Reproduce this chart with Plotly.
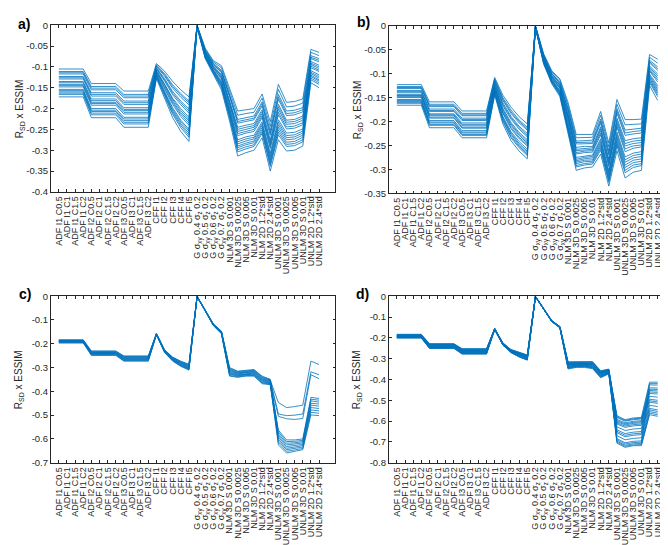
import plotly.graph_objects as go

categories = [
    "ADF I1 C0.5", "ADF I1 C1", "ADF I1 C1.5", "ADF I1 C2",
    "ADF I2 C0.5", "ADF I2 C1", "ADF I2 C1.5", "ADF I2 C2",
    "ADF I3 C0.5", "ADF I3 C1", "ADF I3 C1.5", "ADF I3 C2",
    "CFF I1", "CFF I2", "CFF I3", "CFF I4", "CFF I5",
    "G σ<sub>xy</sub> 0.4 σ<sub>z</sub> 0.2", "G σ<sub>xy</sub> 0.5 σ<sub>z</sub> 0.2",
    "G σ<sub>xy</sub> 0.6 σ<sub>z</sub> 0.2", "G σ<sub>xy</sub> 0.7 σ<sub>z</sub> 0.2",
    "NLM 3D S 0.001", "NLM 3D S 0.0025", "NLM 3D S 0.005", "NLM 3D S 0.01",
    "NLM 2D 1.2*std", "NLM 2D 2.4*std",
    "UNLM 3D S 0.001", "UNLM 3D S 0.0025", "UNLM 3D S 0.005", "UNLM 3D S 0.01",
    "UNLM 2D 1.2*std", "UNLM 2D 2.4*std",
]

a_series = [
    [-0.105,-0.105,-0.105,-0.105,-0.140,-0.140,-0.140,-0.140,-0.158,-0.158,-0.158,-0.158,-0.092,-0.110,-0.135,-0.155,-0.172,-0.001,-0.060,-0.091,-0.108,-0.165,-0.226,-0.222,-0.218,-0.184,-0.253,-0.166,-0.206,-0.204,-0.198,-0.073,-0.080],
    [-0.111,-0.111,-0.111,-0.111,-0.147,-0.147,-0.147,-0.147,-0.166,-0.166,-0.166,-0.166,-0.095,-0.116,-0.143,-0.164,-0.182,-0.000,-0.055,-0.085,-0.097,-0.150,-0.206,-0.203,-0.200,-0.165,-0.232,-0.142,-0.185,-0.183,-0.177,-0.058,-0.065],
    [-0.117,-0.117,-0.117,-0.117,-0.155,-0.155,-0.155,-0.155,-0.174,-0.174,-0.174,-0.174,-0.099,-0.122,-0.151,-0.173,-0.191,-0.001,-0.064,-0.097,-0.118,-0.179,-0.245,-0.240,-0.236,-0.203,-0.275,-0.190,-0.228,-0.226,-0.218,-0.087,-0.096],
    [-0.123,-0.123,-0.123,-0.123,-0.162,-0.162,-0.162,-0.162,-0.182,-0.182,-0.182,-0.182,-0.102,-0.128,-0.159,-0.182,-0.201,-0.000,-0.057,-0.088,-0.102,-0.157,-0.216,-0.212,-0.209,-0.175,-0.243,-0.154,-0.196,-0.194,-0.187,-0.065,-0.073],
    [-0.129,-0.129,-0.129,-0.129,-0.170,-0.170,-0.170,-0.170,-0.190,-0.190,-0.190,-0.190,-0.105,-0.134,-0.167,-0.191,-0.211,-0.002,-0.069,-0.103,-0.129,-0.194,-0.265,-0.259,-0.255,-0.222,-0.296,-0.215,-0.249,-0.247,-0.239,-0.102,-0.111],
    [-0.135,-0.135,-0.135,-0.135,-0.177,-0.177,-0.177,-0.177,-0.198,-0.198,-0.198,-0.198,-0.108,-0.140,-0.175,-0.200,-0.221,-0.001,-0.062,-0.094,-0.113,-0.172,-0.235,-0.231,-0.227,-0.194,-0.264,-0.178,-0.217,-0.215,-0.208,-0.080,-0.088],
    [-0.142,-0.142,-0.142,-0.142,-0.185,-0.185,-0.185,-0.185,-0.205,-0.205,-0.205,-0.205,-0.112,-0.145,-0.182,-0.210,-0.230,-0.003,-0.073,-0.109,-0.139,-0.208,-0.285,-0.278,-0.273,-0.241,-0.318,-0.239,-0.270,-0.268,-0.259,-0.116,-0.127],
    [-0.148,-0.148,-0.148,-0.148,-0.192,-0.192,-0.192,-0.192,-0.213,-0.213,-0.213,-0.213,-0.115,-0.151,-0.190,-0.219,-0.240,-0.002,-0.066,-0.100,-0.123,-0.186,-0.255,-0.250,-0.245,-0.213,-0.286,-0.202,-0.238,-0.236,-0.228,-0.094,-0.104],
    [-0.154,-0.154,-0.154,-0.154,-0.200,-0.200,-0.200,-0.200,-0.221,-0.221,-0.221,-0.221,-0.118,-0.157,-0.198,-0.228,-0.250,-0.004,-0.078,-0.115,-0.150,-0.223,-0.304,-0.297,-0.291,-0.260,-0.339,-0.263,-0.291,-0.289,-0.280,-0.131,-0.142],
    [-0.160,-0.160,-0.160,-0.160,-0.207,-0.207,-0.207,-0.207,-0.229,-0.229,-0.229,-0.229,-0.121,-0.163,-0.206,-0.237,-0.259,-0.002,-0.071,-0.106,-0.134,-0.201,-0.275,-0.268,-0.264,-0.232,-0.307,-0.227,-0.259,-0.257,-0.249,-0.109,-0.119],
    [-0.166,-0.166,-0.166,-0.166,-0.215,-0.215,-0.215,-0.215,-0.237,-0.237,-0.237,-0.237,-0.125,-0.169,-0.214,-0.246,-0.269,-0.004,-0.080,-0.118,-0.155,-0.230,-0.314,-0.306,-0.300,-0.270,-0.350,-0.275,-0.302,-0.300,-0.290,-0.138,-0.150],
    [-0.172,-0.172,-0.172,-0.172,-0.222,-0.222,-0.222,-0.222,-0.245,-0.245,-0.245,-0.245,-0.128,-0.175,-0.222,-0.255,-0.279,-0.003,-0.075,-0.112,-0.144,-0.215,-0.294,-0.287,-0.282,-0.251,-0.329,-0.251,-0.281,-0.279,-0.269,-0.123,-0.134],
    [-0.114,-0.114,-0.114,-0.114,-0.151,-0.151,-0.151,-0.151,-0.170,-0.170,-0.170,-0.170,-0.097,-0.119,-0.147,-0.168,-0.186,-0.002,-0.065,-0.099,-0.121,-0.183,-0.250,-0.245,-0.241,-0.208,-0.281,-0.196,-0.233,-0.231,-0.223,-0.120,-0.131],
    [-0.126,-0.126,-0.126,-0.126,-0.166,-0.166,-0.166,-0.166,-0.186,-0.186,-0.186,-0.186,-0.104,-0.131,-0.163,-0.186,-0.206,-0.003,-0.072,-0.108,-0.137,-0.205,-0.280,-0.273,-0.269,-0.237,-0.313,-0.233,-0.265,-0.263,-0.254,-0.091,-0.100],
    [-0.138,-0.138,-0.138,-0.138,-0.181,-0.181,-0.181,-0.181,-0.202,-0.202,-0.202,-0.202,-0.110,-0.142,-0.178,-0.205,-0.226,-0.004,-0.077,-0.114,-0.147,-0.219,-0.299,-0.292,-0.287,-0.256,-0.334,-0.257,-0.286,-0.284,-0.275,-0.113,-0.123],
    [-0.145,-0.145,-0.145,-0.145,-0.188,-0.188,-0.188,-0.188,-0.209,-0.209,-0.209,-0.209,-0.113,-0.148,-0.186,-0.214,-0.235,-0.002,-0.068,-0.102,-0.126,-0.190,-0.260,-0.255,-0.250,-0.218,-0.291,-0.209,-0.244,-0.242,-0.234,-0.127,-0.138],
    [-0.157,-0.157,-0.157,-0.157,-0.204,-0.204,-0.204,-0.204,-0.225,-0.225,-0.225,-0.225,-0.120,-0.160,-0.202,-0.232,-0.254,-0.001,-0.061,-0.093,-0.111,-0.169,-0.231,-0.227,-0.223,-0.189,-0.259,-0.172,-0.212,-0.210,-0.203,-0.098,-0.108],
    [-0.163,-0.163,-0.163,-0.163,-0.211,-0.211,-0.211,-0.211,-0.233,-0.233,-0.233,-0.233,-0.123,-0.166,-0.210,-0.241,-0.264,-0.003,-0.074,-0.111,-0.142,-0.212,-0.290,-0.283,-0.278,-0.246,-0.324,-0.245,-0.275,-0.273,-0.264,-0.077,-0.084],
]

b_series = [
    [-0.123,-0.123,-0.123,-0.123,-0.159,-0.159,-0.159,-0.159,-0.178,-0.178,-0.178,-0.178,-0.108,-0.145,-0.170,-0.190,-0.205,-0.001,-0.062,-0.099,-0.118,-0.172,-0.241,-0.240,-0.239,-0.195,-0.261,-0.173,-0.218,-0.216,-0.214,-0.072,-0.086],
    [-0.127,-0.127,-0.127,-0.127,-0.164,-0.164,-0.164,-0.164,-0.183,-0.183,-0.183,-0.183,-0.111,-0.150,-0.176,-0.197,-0.212,-0.000,-0.058,-0.094,-0.111,-0.160,-0.227,-0.227,-0.227,-0.179,-0.245,-0.154,-0.196,-0.196,-0.195,-0.060,-0.070],
    [-0.131,-0.131,-0.131,-0.131,-0.169,-0.169,-0.169,-0.169,-0.188,-0.188,-0.188,-0.188,-0.115,-0.156,-0.183,-0.203,-0.218,-0.001,-0.066,-0.104,-0.124,-0.184,-0.254,-0.252,-0.252,-0.211,-0.278,-0.193,-0.240,-0.236,-0.234,-0.084,-0.101],
    [-0.135,-0.135,-0.135,-0.135,-0.174,-0.174,-0.174,-0.174,-0.193,-0.193,-0.193,-0.193,-0.118,-0.161,-0.189,-0.210,-0.225,-0.000,-0.060,-0.096,-0.114,-0.166,-0.234,-0.233,-0.233,-0.187,-0.253,-0.164,-0.207,-0.206,-0.205,-0.066,-0.078],
    [-0.139,-0.139,-0.139,-0.139,-0.179,-0.179,-0.179,-0.179,-0.198,-0.198,-0.198,-0.198,-0.121,-0.167,-0.195,-0.216,-0.232,-0.002,-0.070,-0.109,-0.131,-0.195,-0.268,-0.265,-0.264,-0.228,-0.294,-0.212,-0.263,-0.256,-0.253,-0.095,-0.117],
    [-0.143,-0.143,-0.143,-0.143,-0.184,-0.184,-0.184,-0.184,-0.203,-0.203,-0.203,-0.203,-0.125,-0.172,-0.202,-0.223,-0.238,-0.001,-0.064,-0.101,-0.121,-0.178,-0.247,-0.246,-0.246,-0.203,-0.270,-0.183,-0.229,-0.226,-0.224,-0.078,-0.093],
    [-0.146,-0.146,-0.146,-0.146,-0.188,-0.188,-0.188,-0.188,-0.209,-0.209,-0.209,-0.209,-0.128,-0.178,-0.208,-0.229,-0.245,-0.003,-0.074,-0.114,-0.138,-0.207,-0.282,-0.278,-0.276,-0.244,-0.310,-0.232,-0.285,-0.276,-0.273,-0.107,-0.133],
    [-0.150,-0.150,-0.150,-0.150,-0.193,-0.193,-0.193,-0.193,-0.214,-0.214,-0.214,-0.214,-0.132,-0.183,-0.215,-0.236,-0.251,-0.002,-0.068,-0.106,-0.128,-0.190,-0.261,-0.259,-0.258,-0.219,-0.286,-0.203,-0.251,-0.246,-0.244,-0.090,-0.109],
    [-0.154,-0.154,-0.154,-0.154,-0.198,-0.198,-0.198,-0.198,-0.219,-0.219,-0.219,-0.219,-0.135,-0.189,-0.221,-0.242,-0.258,-0.004,-0.078,-0.119,-0.145,-0.219,-0.295,-0.291,-0.289,-0.260,-0.327,-0.251,-0.307,-0.296,-0.292,-0.119,-0.148],
    [-0.158,-0.158,-0.158,-0.158,-0.203,-0.203,-0.203,-0.203,-0.224,-0.224,-0.224,-0.224,-0.138,-0.194,-0.227,-0.249,-0.265,-0.002,-0.072,-0.111,-0.135,-0.201,-0.275,-0.272,-0.270,-0.236,-0.302,-0.222,-0.274,-0.266,-0.263,-0.101,-0.125],
    [-0.162,-0.162,-0.162,-0.162,-0.208,-0.208,-0.208,-0.208,-0.229,-0.229,-0.229,-0.229,-0.142,-0.200,-0.234,-0.255,-0.271,-0.004,-0.080,-0.121,-0.148,-0.225,-0.302,-0.297,-0.295,-0.268,-0.335,-0.261,-0.318,-0.306,-0.302,-0.125,-0.156],
    [-0.166,-0.166,-0.166,-0.166,-0.213,-0.213,-0.213,-0.213,-0.234,-0.234,-0.234,-0.234,-0.145,-0.205,-0.240,-0.262,-0.278,-0.003,-0.076,-0.116,-0.141,-0.213,-0.288,-0.284,-0.283,-0.252,-0.319,-0.242,-0.296,-0.286,-0.283,-0.113,-0.140],
    [-0.129,-0.129,-0.129,-0.129,-0.167,-0.167,-0.167,-0.167,-0.186,-0.186,-0.186,-0.186,-0.113,-0.153,-0.180,-0.200,-0.215,-0.002,-0.067,-0.105,-0.126,-0.187,-0.258,-0.256,-0.255,-0.215,-0.282,-0.198,-0.246,-0.241,-0.239,-0.110,-0.137],
    [-0.137,-0.137,-0.137,-0.137,-0.177,-0.177,-0.177,-0.177,-0.196,-0.196,-0.196,-0.196,-0.120,-0.164,-0.192,-0.213,-0.229,-0.003,-0.073,-0.113,-0.137,-0.204,-0.279,-0.275,-0.273,-0.240,-0.306,-0.227,-0.280,-0.271,-0.268,-0.087,-0.105],
    [-0.145,-0.145,-0.145,-0.145,-0.186,-0.186,-0.186,-0.186,-0.206,-0.206,-0.206,-0.206,-0.127,-0.175,-0.205,-0.226,-0.242,-0.004,-0.077,-0.118,-0.143,-0.216,-0.292,-0.288,-0.286,-0.256,-0.323,-0.247,-0.302,-0.291,-0.288,-0.104,-0.129],
    [-0.148,-0.148,-0.148,-0.148,-0.191,-0.191,-0.191,-0.191,-0.212,-0.212,-0.212,-0.212,-0.130,-0.181,-0.212,-0.233,-0.248,-0.002,-0.069,-0.108,-0.130,-0.193,-0.265,-0.262,-0.261,-0.224,-0.290,-0.208,-0.257,-0.251,-0.249,-0.116,-0.144],
    [-0.156,-0.156,-0.156,-0.156,-0.201,-0.201,-0.201,-0.201,-0.222,-0.222,-0.222,-0.222,-0.137,-0.192,-0.224,-0.246,-0.262,-0.001,-0.063,-0.100,-0.120,-0.175,-0.244,-0.243,-0.243,-0.199,-0.266,-0.178,-0.224,-0.221,-0.219,-0.093,-0.113],
    [-0.160,-0.160,-0.160,-0.160,-0.206,-0.206,-0.206,-0.206,-0.227,-0.227,-0.227,-0.227,-0.140,-0.197,-0.231,-0.252,-0.268,-0.003,-0.075,-0.115,-0.140,-0.210,-0.285,-0.281,-0.280,-0.248,-0.315,-0.237,-0.291,-0.281,-0.278,-0.075,-0.090],
]

c_series = [
    [-0.183,-0.183,-0.183,-0.183,-0.230,-0.230,-0.230,-0.230,-0.251,-0.251,-0.251,-0.251,-0.157,-0.225,-0.256,-0.273,-0.286,-0.001,-0.059,-0.117,-0.149,-0.307,-0.320,-0.316,-0.313,-0.342,-0.353,-0.447,-0.468,-0.464,-0.458,-0.273,-0.287],
    [-0.185,-0.185,-0.185,-0.185,-0.232,-0.232,-0.232,-0.232,-0.253,-0.253,-0.253,-0.253,-0.157,-0.226,-0.258,-0.275,-0.288,-0.000,-0.058,-0.116,-0.147,-0.300,-0.315,-0.311,-0.308,-0.336,-0.349,-0.578,-0.618,-0.616,-0.611,-0.440,-0.445],
    [-0.186,-0.186,-0.186,-0.186,-0.234,-0.234,-0.234,-0.234,-0.255,-0.255,-0.255,-0.255,-0.158,-0.227,-0.259,-0.277,-0.290,-0.001,-0.060,-0.119,-0.151,-0.313,-0.324,-0.320,-0.318,-0.348,-0.357,-0.600,-0.639,-0.634,-0.628,-0.468,-0.472],
    [-0.187,-0.187,-0.187,-0.187,-0.236,-0.236,-0.236,-0.236,-0.257,-0.257,-0.257,-0.257,-0.158,-0.228,-0.261,-0.279,-0.293,-0.000,-0.058,-0.117,-0.148,-0.303,-0.317,-0.313,-0.311,-0.339,-0.351,-0.495,-0.502,-0.500,-0.495,-0.318,-0.330],
    [-0.188,-0.188,-0.188,-0.188,-0.237,-0.237,-0.237,-0.237,-0.259,-0.259,-0.259,-0.259,-0.159,-0.229,-0.262,-0.281,-0.295,-0.002,-0.060,-0.120,-0.153,-0.320,-0.329,-0.325,-0.323,-0.353,-0.362,-0.563,-0.604,-0.604,-0.600,-0.425,-0.430],
    [-0.189,-0.189,-0.189,-0.189,-0.239,-0.239,-0.239,-0.239,-0.261,-0.261,-0.261,-0.261,-0.159,-0.230,-0.264,-0.283,-0.297,-0.001,-0.059,-0.118,-0.150,-0.310,-0.322,-0.318,-0.316,-0.345,-0.355,-0.616,-0.652,-0.646,-0.640,-0.488,-0.492],
    [-0.190,-0.190,-0.190,-0.190,-0.240,-0.240,-0.240,-0.240,-0.263,-0.263,-0.263,-0.263,-0.160,-0.231,-0.265,-0.285,-0.299,-0.002,-0.061,-0.122,-0.155,-0.326,-0.334,-0.329,-0.328,-0.359,-0.366,-0.585,-0.625,-0.622,-0.617,-0.450,-0.453],
    [-0.191,-0.191,-0.191,-0.191,-0.241,-0.241,-0.241,-0.241,-0.265,-0.265,-0.265,-0.265,-0.160,-0.232,-0.267,-0.287,-0.302,-0.001,-0.060,-0.120,-0.152,-0.316,-0.327,-0.322,-0.321,-0.351,-0.359,-0.505,-0.515,-0.518,-0.514,-0.330,-0.347],
    [-0.192,-0.192,-0.192,-0.192,-0.243,-0.243,-0.243,-0.243,-0.267,-0.267,-0.267,-0.267,-0.161,-0.233,-0.268,-0.289,-0.304,-0.003,-0.062,-0.123,-0.157,-0.333,-0.339,-0.334,-0.333,-0.365,-0.370,-0.625,-0.659,-0.652,-0.645,-0.499,-0.502],
    [-0.193,-0.193,-0.193,-0.193,-0.245,-0.245,-0.245,-0.245,-0.269,-0.269,-0.269,-0.269,-0.161,-0.234,-0.270,-0.291,-0.306,-0.002,-0.061,-0.121,-0.154,-0.323,-0.331,-0.327,-0.326,-0.356,-0.364,-0.570,-0.611,-0.610,-0.606,-0.433,-0.437],
    [-0.195,-0.195,-0.195,-0.195,-0.247,-0.247,-0.247,-0.247,-0.271,-0.271,-0.271,-0.271,-0.162,-0.235,-0.271,-0.293,-0.308,-0.003,-0.062,-0.124,-0.158,-0.336,-0.341,-0.336,-0.336,-0.368,-0.372,-0.608,-0.645,-0.640,-0.634,-0.478,-0.482],
    [-0.197,-0.197,-0.197,-0.197,-0.249,-0.249,-0.249,-0.249,-0.273,-0.273,-0.273,-0.273,-0.162,-0.237,-0.273,-0.295,-0.311,-0.002,-0.061,-0.122,-0.156,-0.329,-0.336,-0.331,-0.331,-0.362,-0.368,-0.592,-0.632,-0.628,-0.623,-0.458,-0.462],
]

d_series = [
    [-0.183,-0.183,-0.183,-0.183,-0.228,-0.228,-0.228,-0.228,-0.252,-0.252,-0.252,-0.252,-0.155,-0.224,-0.256,-0.268,-0.282,-0.001,-0.059,-0.118,-0.146,-0.321,-0.320,-0.319,-0.320,-0.364,-0.354,-0.628,-0.645,-0.638,-0.635,-0.481,-0.485],
    [-0.185,-0.185,-0.185,-0.185,-0.230,-0.230,-0.230,-0.230,-0.254,-0.254,-0.254,-0.254,-0.155,-0.225,-0.257,-0.270,-0.284,-0.000,-0.059,-0.117,-0.145,-0.315,-0.315,-0.314,-0.314,-0.358,-0.350,-0.592,-0.608,-0.601,-0.598,-0.440,-0.441],
    [-0.187,-0.187,-0.187,-0.187,-0.232,-0.232,-0.232,-0.232,-0.257,-0.257,-0.257,-0.257,-0.156,-0.226,-0.259,-0.272,-0.287,-0.001,-0.060,-0.119,-0.148,-0.328,-0.325,-0.324,-0.326,-0.370,-0.358,-0.670,-0.690,-0.683,-0.680,-0.524,-0.530],
    [-0.188,-0.188,-0.188,-0.188,-0.234,-0.234,-0.234,-0.234,-0.259,-0.259,-0.259,-0.259,-0.156,-0.227,-0.260,-0.275,-0.289,-0.000,-0.059,-0.117,-0.146,-0.318,-0.317,-0.317,-0.317,-0.361,-0.352,-0.574,-0.593,-0.585,-0.582,-0.413,-0.413],
    [-0.190,-0.190,-0.190,-0.190,-0.236,-0.236,-0.236,-0.236,-0.261,-0.261,-0.261,-0.261,-0.157,-0.228,-0.261,-0.277,-0.291,-0.002,-0.061,-0.120,-0.149,-0.334,-0.330,-0.329,-0.333,-0.377,-0.363,-0.696,-0.716,-0.709,-0.707,-0.554,-0.562],
    [-0.191,-0.191,-0.191,-0.191,-0.238,-0.238,-0.238,-0.238,-0.263,-0.263,-0.263,-0.263,-0.157,-0.229,-0.263,-0.279,-0.293,-0.001,-0.060,-0.118,-0.147,-0.325,-0.322,-0.322,-0.323,-0.367,-0.356,-0.603,-0.618,-0.611,-0.608,-0.453,-0.455],
    [-0.193,-0.193,-0.193,-0.193,-0.240,-0.240,-0.240,-0.240,-0.266,-0.266,-0.266,-0.266,-0.158,-0.230,-0.264,-0.281,-0.296,-0.002,-0.061,-0.121,-0.150,-0.340,-0.335,-0.334,-0.339,-0.383,-0.367,-0.656,-0.675,-0.668,-0.665,-0.509,-0.515],
    [-0.194,-0.194,-0.194,-0.194,-0.242,-0.242,-0.242,-0.242,-0.268,-0.268,-0.268,-0.268,-0.158,-0.231,-0.265,-0.283,-0.298,-0.001,-0.060,-0.119,-0.148,-0.331,-0.327,-0.327,-0.329,-0.373,-0.360,-0.583,-0.600,-0.593,-0.590,-0.426,-0.427],
    [-0.196,-0.196,-0.196,-0.196,-0.244,-0.244,-0.244,-0.244,-0.270,-0.270,-0.270,-0.270,-0.159,-0.232,-0.267,-0.285,-0.300,-0.003,-0.062,-0.122,-0.151,-0.347,-0.340,-0.339,-0.345,-0.389,-0.371,-0.706,-0.726,-0.718,-0.718,-0.569,-0.577],
    [-0.197,-0.197,-0.197,-0.197,-0.246,-0.246,-0.246,-0.246,-0.273,-0.273,-0.273,-0.273,-0.159,-0.233,-0.268,-0.288,-0.302,-0.002,-0.061,-0.120,-0.149,-0.337,-0.332,-0.332,-0.336,-0.380,-0.365,-0.614,-0.630,-0.623,-0.620,-0.467,-0.470],
    [-0.199,-0.199,-0.199,-0.199,-0.248,-0.248,-0.248,-0.248,-0.275,-0.275,-0.275,-0.275,-0.160,-0.234,-0.270,-0.290,-0.305,-0.003,-0.062,-0.122,-0.152,-0.350,-0.342,-0.342,-0.348,-0.392,-0.373,-0.684,-0.704,-0.697,-0.695,-0.539,-0.546],
    [-0.201,-0.201,-0.201,-0.201,-0.251,-0.251,-0.251,-0.251,-0.278,-0.278,-0.278,-0.278,-0.160,-0.235,-0.271,-0.292,-0.307,-0.002,-0.062,-0.121,-0.151,-0.344,-0.337,-0.337,-0.342,-0.386,-0.369,-0.642,-0.660,-0.653,-0.650,-0.495,-0.500],
    [-0.186,-0.186,-0.186,-0.186,-0.231,-0.231,-0.231,-0.231,-0.255,-0.255,-0.255,-0.255,-0.156,-0.225,-0.258,-0.271,-0.285,-0.001,-0.060,-0.118,-0.147,-0.324,-0.322,-0.321,-0.323,-0.367,-0.356,-0.579,-0.597,-0.589,-0.586,-0.502,-0.508],
    [-0.189,-0.189,-0.189,-0.189,-0.235,-0.235,-0.235,-0.235,-0.260,-0.260,-0.260,-0.260,-0.157,-0.228,-0.261,-0.276,-0.290,-0.001,-0.060,-0.119,-0.148,-0.331,-0.327,-0.326,-0.329,-0.373,-0.360,-0.609,-0.624,-0.617,-0.614,-0.546,-0.554],
    [-0.192,-0.192,-0.192,-0.192,-0.239,-0.239,-0.239,-0.239,-0.264,-0.264,-0.264,-0.264,-0.158,-0.230,-0.264,-0.280,-0.294,-0.002,-0.061,-0.120,-0.149,-0.338,-0.332,-0.331,-0.336,-0.380,-0.365,-0.649,-0.668,-0.661,-0.658,-0.420,-0.420],
    [-0.195,-0.195,-0.195,-0.195,-0.243,-0.243,-0.243,-0.243,-0.269,-0.269,-0.269,-0.269,-0.158,-0.232,-0.266,-0.284,-0.299,-0.002,-0.061,-0.121,-0.150,-0.344,-0.337,-0.337,-0.342,-0.386,-0.369,-0.690,-0.710,-0.703,-0.701,-0.447,-0.448],
    [-0.198,-0.198,-0.198,-0.198,-0.247,-0.247,-0.247,-0.247,-0.274,-0.274,-0.274,-0.274,-0.159,-0.233,-0.269,-0.289,-0.303,-0.003,-0.062,-0.122,-0.151,-0.318,-0.317,-0.317,-0.317,-0.361,-0.352,-0.701,-0.721,-0.714,-0.713,-0.561,-0.570],
    [-0.200,-0.200,-0.200,-0.200,-0.250,-0.250,-0.250,-0.250,-0.277,-0.277,-0.277,-0.277,-0.160,-0.235,-0.270,-0.291,-0.306,-0.002,-0.062,-0.121,-0.151,-0.328,-0.325,-0.324,-0.326,-0.370,-0.358,-0.598,-0.613,-0.606,-0.603,-0.460,-0.462],
]

a_yticks = [0, -0.05, -0.1, -0.15, -0.2, -0.25, -0.3, -0.35, -0.4]
b_yticks = [0, -0.05, -0.1, -0.15, -0.2, -0.25, -0.3, -0.35]
c_yticks = [0, -0.1, -0.2, -0.3, -0.4, -0.5, -0.6, -0.7]
d_yticks = [0, -0.1, -0.2, -0.3, -0.4, -0.5, -0.6, -0.7, -0.8]

W, H = 668, 545
LINE = "#0072BD"
AX = "#262626"
FONT = "Liberation Sans, Arial, sans-serif"

x_pos = list(range(1, len(categories) + 1))

panels = [
    (a_series, a_yticks, [0, 35], (42.7, 327.3, 11.5, 181.5), "a)", (16, 10)),
    (b_series, b_yticks, [0, 34.2], (380.7, 659.5, 12.0, 183.0), "b)", (355, 8)),
    (c_series, c_yticks, [0, 35], (42.7, 327.3, 288.0, 458.0), "c)", (17, 286)),
    (d_series, d_yticks, [0, 34.2], (380.7, 659.5, 288.0, 458.0), "d)", (354, 286)),
]

fig = go.Figure()
annotations = []
for i, (series, yt, xr, box, lab, labpos) in enumerate(panels):
    n = "" if i == 0 else str(i + 1)
    for s in series:
        fig.add_trace(go.Scatter(
            x=x_pos, y=s, mode="lines",
            line=dict(color=LINE, width=0.8),
            xaxis="x" + n, yaxis="y" + n, hoverinfo="skip", showlegend=False,
        ))
    l, r, t, b = box
    fig.layout["xaxis" + n] = dict(
        domain=[l / W, r / W], anchor="y" + n, range=xr,
        tickmode="array", tickvals=x_pos, ticktext=categories, tickangle=-90,
        ticks="inside", ticklen=3, tickcolor=AX, tickwidth=0.6,
        showline=True, linecolor=AX, linewidth=0.6, mirror="ticks",
        showgrid=False, zeroline=False,
        tickfont=dict(family=FONT, size=9, color=AX),
    )
    fig.layout["yaxis" + n] = dict(
        domain=[1 - b / H, 1 - t / H], anchor="x" + n, range=[yt[-1], 0],
        tickmode="array", tickvals=yt, ticktext=["0" if v == 0 else "%g" % v for v in yt],
        ticks="inside", ticklen=3, tickcolor=AX, tickwidth=0.6,
        showline=True, linecolor=AX, linewidth=0.6, mirror="ticks",
        showgrid=False, zeroline=False,
        tickfont=dict(family=FONT, size=9.5, color=AX),
    )
    annotations.append(dict(
        text="R<sub>SD</sub> x ESSIM", textangle=-90, xref="paper", yref="paper",
        x=(l - 31) / W, y=1 - ((t + b) / 2) / H, xanchor="center", yanchor="middle",
        showarrow=False, font=dict(family=FONT, size=10, color=AX),
    ))
    annotations.append(dict(
        text="<b>" + lab + "</b>", xref="paper", yref="paper",
        x=labpos[0] / W, y=1 - labpos[1] / H, xanchor="center", yanchor="middle",
        showarrow=False, font=dict(family=FONT, size=14, color="#000000"),
    ))

fig.update_layout(
    width=W, height=H, margin=dict(l=0, r=0, t=0, b=0),
    paper_bgcolor="white", plot_bgcolor="white",
    showlegend=False, annotations=annotations,
)

fig.write_html("out.html")
